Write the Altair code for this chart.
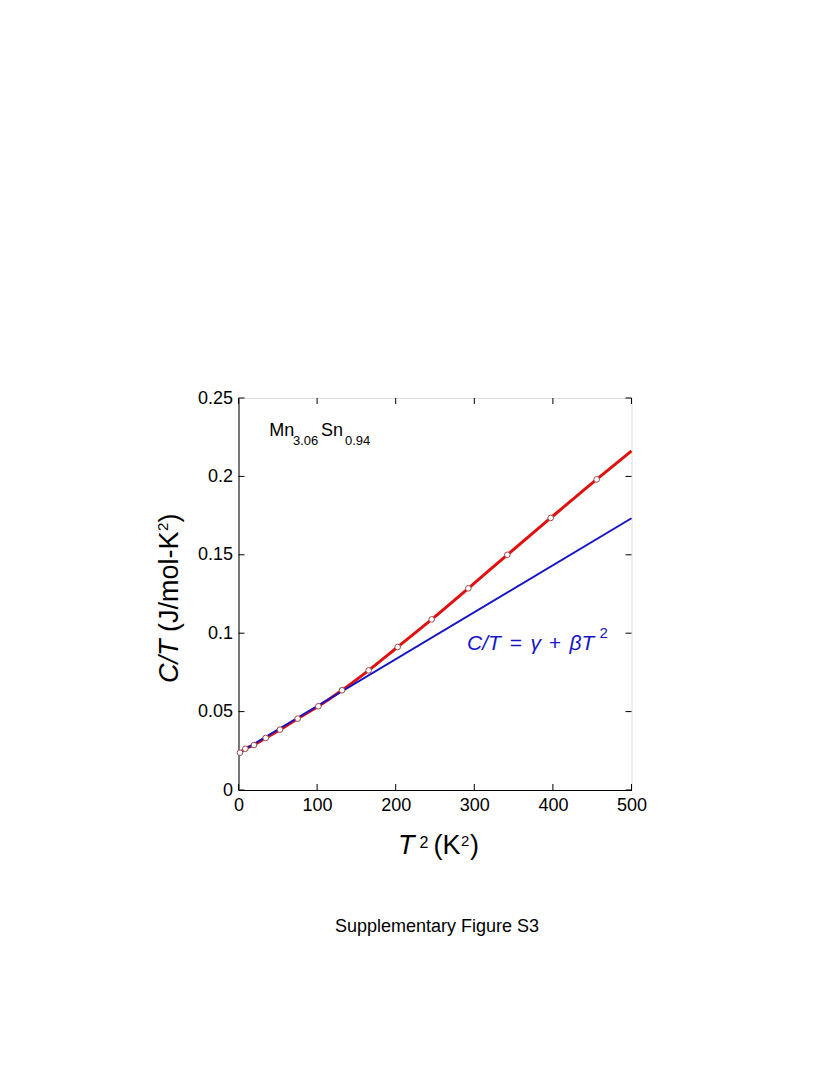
import altair as alt
import pandas as pd

# ---- data ----
T2_data = [1.9, 8.7, 19.7, 34.6, 52.8, 75.3, 101.6, 131.7, 165.6, 202.5, 245.8, 292.4, 342.0, 397.2, 455.7]
CT_data = [0.0238, 0.0263, 0.0287, 0.0332, 0.0385, 0.0455, 0.0534, 0.0636, 0.0763, 0.0912, 0.1088, 0.1286, 0.1500, 0.1735, 0.1981]

# red smooth curve through the points, extended to the frame
curve_T2 = T2_data + [500]
curve_CT = CT_data + [0.2162]

# blue linear fit C/T = gamma + beta T^2
fit_T2 = [0, 500]
fit_CT = [0.0235, 0.1733]

x_ticks = [0, 100, 200, 300, 400, 500]
y_ticks = [0, 0.05, 0.1, 0.15, 0.2, 0.25]

W, H = 393, 392
FONT = "Liberation Sans"
BLUE = "#1515c8"

pts = pd.DataFrame({"T2": T2_data, "CT": CT_data})
curve = pd.DataFrame({"T2": curve_T2, "CT": curve_CT})
fit = pd.DataFrame({"T2": fit_T2, "CT": fit_CT})

xs = alt.Scale(domain=[0, 500], nice=False, zero=False)
ys = alt.Scale(domain=[0, 0.25], nice=False, zero=False)

x_axis = alt.Axis(values=x_ticks, title=None, ticks=False, tickSize=0, grid=False,
                  labelFont=FONT, labelFontSize=18, labelColor="black", labelPadding=6,
                  domainColor="black", labelFlush=False)
y_axis = alt.Axis(values=y_ticks, title=None, ticks=False, tickSize=0, grid=False,
                  labelFont=FONT, labelFontSize=18, labelColor="black", labelPadding=6,
                  domainColor="black", format="~g", labelFlush=False)

red = alt.Chart(curve).mark_line(color="#e01010", strokeWidth=3, interpolate="monotone").encode(
    x=alt.X("T2:Q", scale=xs, axis=x_axis),
    y=alt.Y("CT:Q", scale=ys, axis=y_axis),
)
blue = alt.Chart(fit).mark_line(color=BLUE, strokeWidth=2).encode(
    x=alt.X("T2:Q", scale=xs), y=alt.Y("CT:Q", scale=ys)
)
points = alt.Chart(pts).mark_point(shape="circle", size=32, filled=False, fill="white",
                                   fillOpacity=1, stroke="#a04848", strokeWidth=1, opacity=1).encode(
    x=alt.X("T2:Q", scale=xs), y=alt.Y("CT:Q", scale=ys)
)

xt = pd.DataFrame({"v": x_ticks})
yt = pd.DataFrame({"v": y_ticks})
TL = 6
ticks_bottom = alt.Chart(xt).mark_rule(color="black", strokeWidth=1).encode(
    x=alt.X("v:Q", scale=xs), y=alt.value(H), y2=alt.value(H - TL))
ticks_top = alt.Chart(xt).mark_rule(color="black", strokeWidth=1).encode(
    x=alt.X("v:Q", scale=xs), y=alt.value(0), y2=alt.value(TL))
ticks_left = alt.Chart(yt).mark_rule(color="black", strokeWidth=1).encode(
    y=alt.Y("v:Q", scale=ys), x=alt.value(0), x2=alt.value(TL))
ticks_right = alt.Chart(yt).mark_rule(color="black", strokeWidth=1).encode(
    y=alt.Y("v:Q", scale=ys), x=alt.value(W), x2=alt.value(W - TL))


def txt(s, x, y, size, italic=False, color="black", angle=0, align="left", baseline="alphabetic"):
    kw = dict(font=FONT, fontSize=size, color=color, align=align, baseline=baseline)
    if italic:
        kw["fontStyle"] = "italic"
    if angle:
        kw["angle"] = angle
    return alt.Chart(pd.DataFrame({"t": [s]})).mark_text(**kw).encode(
        x=alt.value(x), y=alt.value(y), text="t:N")


# plot origin on the page is (238.5, 398)
texts = [
    # compound label
    txt("Mn", 30.8, 37.7, 18),
    txt("3.06", 54.5, 47.0, 13),
    txt("Sn", 82.5, 37.7, 18),
    txt("0.94", 106.5, 47.0, 13),
    # fit annotation
    txt("C/T", 228.5, 252, 21, italic=True, color=BLUE),
    txt("=", 271.0, 252, 21, italic=True, color=BLUE),
    txt("γ", 292.0, 252, 21, italic=True, color=BLUE),
    txt("+", 310.0, 252, 21, italic=True, color=BLUE),
    txt("βT", 331.0, 252, 21, italic=True, color=BLUE),
    txt("2", 361.0, 239.5, 15, color=BLUE),
    # x-axis title
    txt("T", 159.5, 455.5, 27, italic=True),
    txt("2", 181.0, 450.0, 16),
    txt("(K", 195.0, 455.5, 27),
    txt("2", 222.5, 447.5, 15),
    txt(")", 231.5, 455.5, 27),
    # y-axis title (rotated)
    txt("C/T", -60.5, 285, 27, italic=True, angle=270),
    txt("(J/mol-K", -60.5, 234, 27, angle=270),
    txt("2", -70.5, 133.0, 15, angle=270),
    txt(")", -60.5, 124.5, 27, angle=270),
    # caption
    txt("Supplementary Figure S3", 198.5, 533.7, 18, align="center"),
]

chart = alt.layer(red, blue, points, ticks_bottom, ticks_top, ticks_left, ticks_right, *texts).properties(
    width=W, height=H,
    autosize=alt.AutoSizeParams(type="none"),
    padding={"left": 230.5, "top": 390, "right": 190, "bottom": 270},
).configure_view(stroke="black", strokeWidth=1).configure(background="white")

chart.save("out.html", embed_options={"renderer": "svg", "actions": False})
